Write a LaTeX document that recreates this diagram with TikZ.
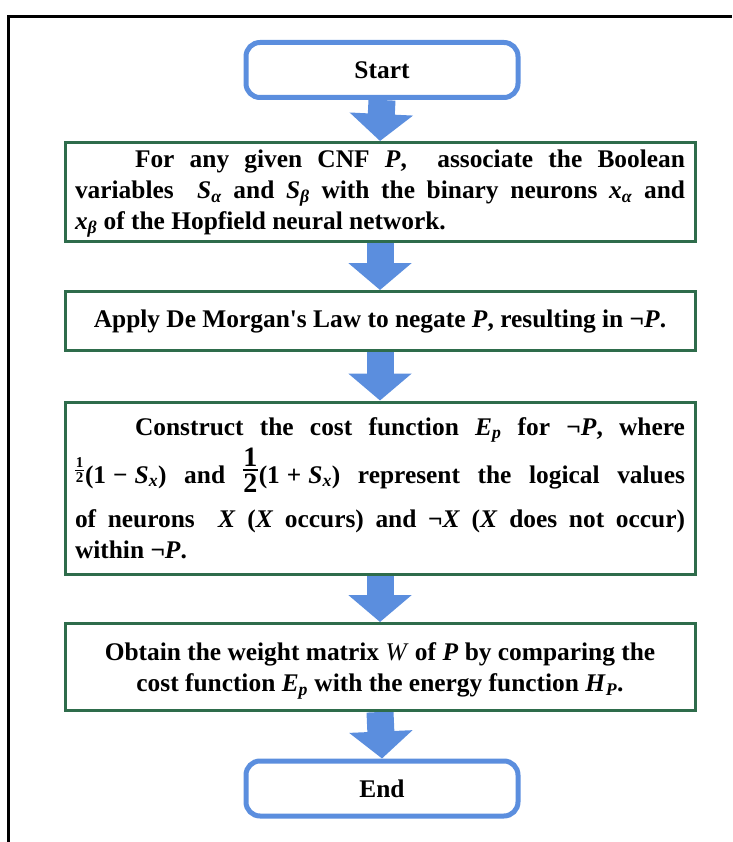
\documentclass[tikz,border=0pt]{standalone}
\usepackage{fontspec}
\setmainfont{Liberation Serif}
\usetikzlibrary{arrows.meta,backgrounds}
\definecolor{flowblue}{RGB}{91,142,222}
\definecolor{flowgreen}{RGB}{46,108,75}
\newcommand{\vb}[1]{\textbf{\textit{#1}}}
\newcommand{\vs}[2]{\textbf{\textit{#1}}\textsubscript{\textbf{\textit{#2}}}}
\newcommand{\bigtxt}{\fontsize{25.4}{31}\selectfont\bfseries}
\newcommand{\bigfr}{\mbox{\fontsize{28}{28}\selectfont\rlap{\raisebox{16.7pt}{\makebox[15pt]{1}}}\rlap{\raisebox{12.5pt}{\rule{15pt}{1.2pt}}}\raisebox{-9.5pt}{\makebox[15pt]{2}}}}
\newcommand{\smallfr}{\mbox{\fontsize{15}{15}\selectfont\rlap{\raisebox{15.5pt}{\makebox[9pt]{1}}}\rlap{\raisebox{12.5pt}{\rule{9pt}{1pt}}}\raisebox{0.4pt}{\makebox[9pt]{2}}}}
\tikzset{
  startend/.style={draw=flowblue, line width=5pt, rounded corners=14pt, fill=white,
    minimum width=272pt, minimum height=55pt, font=\bigtxt, inner sep=0pt},
  stepbox/.style={draw=flowgreen, line width=3pt, fill=white,
    minimum width=630pt, font=\bigtxt, inner xsep=10pt, inner ysep=0pt},
  flowarrow/.style={draw=flowblue, line width=27pt,
    -{Triangle[width=62pt,length=27pt]}},
}
\begin{document}
\begin{tikzpicture}[x=1pt,y=-1pt]
\useasboundingbox (0,0) rectangle (732,842);
\draw[line width=3pt] (8,842) -- (8,17) -- (732,17);
\node[startend] (start) at (382,70) {Start};
\node[stepbox, minimum height=99pt, text width=610pt, align=justify] (b1) at (380,192)
 {\rule{0pt}{21.5pt}\hspace*{60pt}For any given CNF \vb{P},\ \ associate the Boolean\linebreak
  variables\ \ \vs{S}{α} and \vs{S}{β} with the binary neurons \vs{x}{α} and\linebreak
  \vs{x}{β} of the Hopfield neural network.};
\node[stepbox, minimum height=59pt, align=center] (b2) at (380,321)
 {Apply De Morgan\textquotesingle s Law to negate \vb{P}, resulting in ¬\vb{P}.};
\node[stepbox, minimum height=172pt, text width=610pt, align=justify] (b3) at (380,488)
 {\rule[-10pt]{0pt}{10pt}\hspace*{60pt}Construct the cost function \vs{E}{p} for ¬\vb{P}, where\linebreak
  \rule[-25.5pt]{0pt}{62.5pt}\smallfr\kern1pt(1\kern7pt−\kern7pt\vs{S}{x}) and \bigfr\kern1pt(1\kern7pt+\kern7pt\vs{S}{x}) represent the logical values\linebreak
  of neurons\ \ \vb{X} (\vb{X} occurs) and ¬\vb{X} (\vb{X} does not occur)\linebreak
  within ¬\vb{P}.};
\node[stepbox, minimum height=87pt, align=center] (b4) at (380,667)
 {\rule{0pt}{25.5pt}Obtain the weight matrix \textnormal{\textit{W}} of \vb{P} by comparing the\\
  cost function \vs{E}{p} with the energy function \vs{H}{P}.};
\node[startend] (end) at (382,788.5) {End};
\begin{scope}[on background layer]
\draw[flowarrow] (start.south) -- (b1.north);
\draw[flowarrow] (b1.south) -- (b2.north);
\draw[flowarrow] (b2.south) -- (b3.north);
\draw[flowarrow] (b3.south) -- (b4.north);
\draw[flowarrow] (b4.south) -- (end.north);
\end{scope}
\end{tikzpicture}
\end{document}
